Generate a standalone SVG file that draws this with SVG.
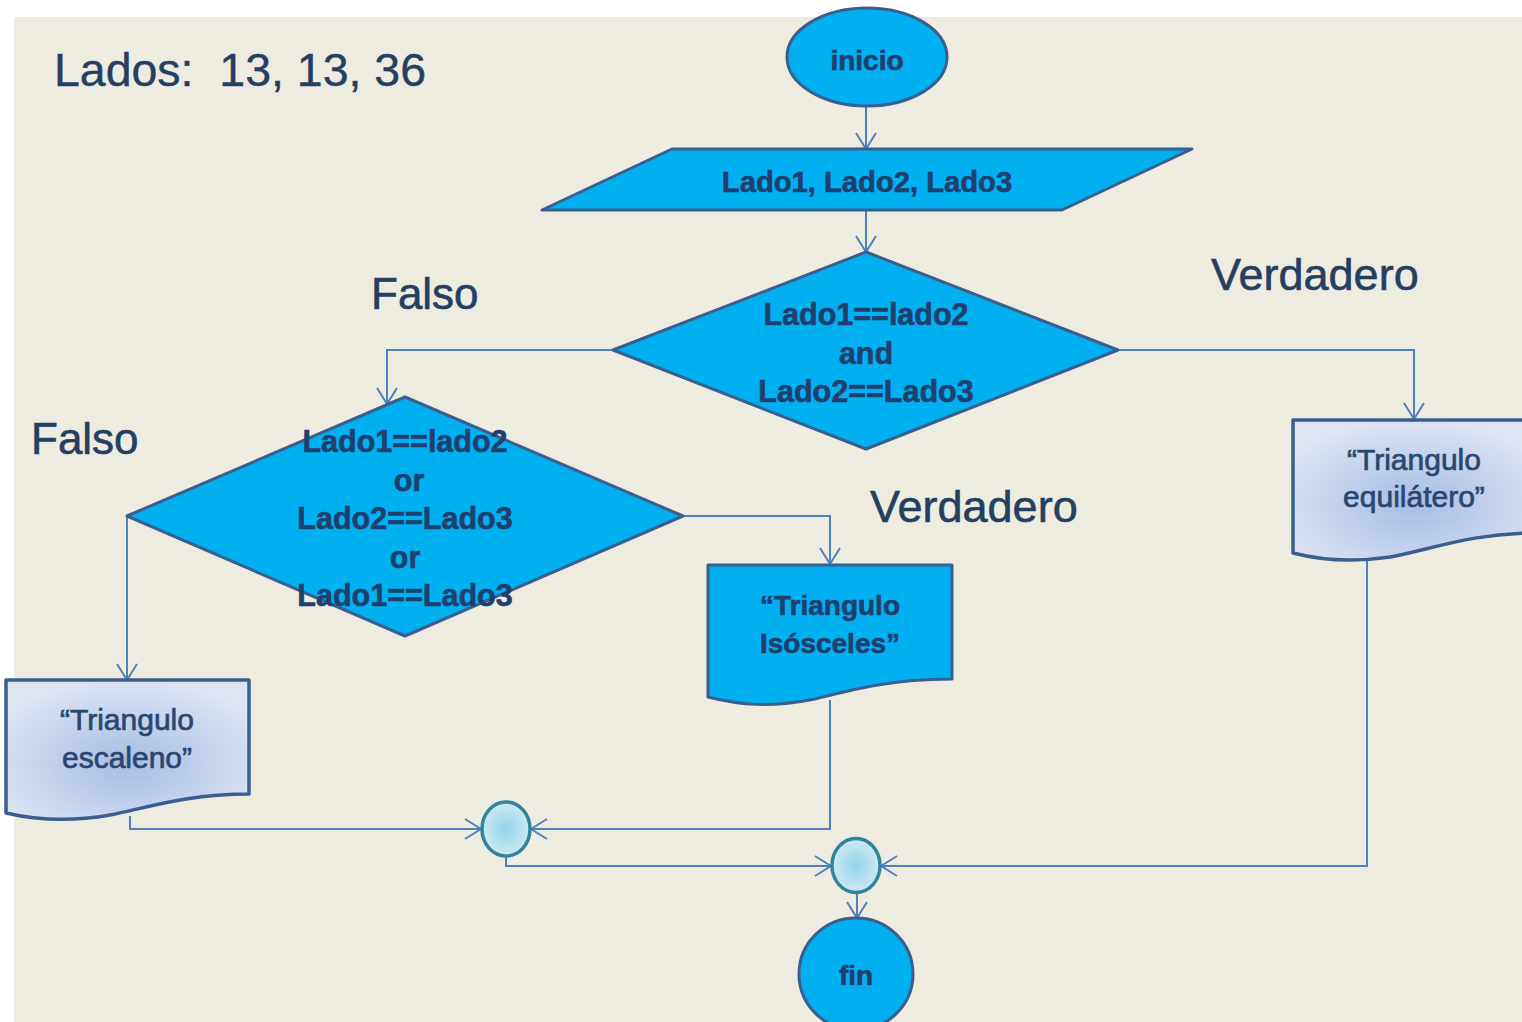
<svg xmlns="http://www.w3.org/2000/svg" width="1522" height="1022" viewBox="0 0 1522 1022">
  <style>
    .node { fill: #00B0F0; stroke: #3A5F8F; stroke-width: 3; stroke-linejoin: round; }
    .doc { fill: url(#docFill); stroke: #3A5F8F; stroke-width: 3.5; stroke-linejoin: round; }
    .junction { fill: url(#junctionFill); stroke: #31849B; stroke-width: 3.5; }
    .conn { fill: none; stroke: #4F81BD; stroke-width: 2; marker-end: url(#arrow); }
    .t { font-family: "Liberation Sans", Arial, sans-serif; text-anchor: middle; }
    .nt { font-weight: bold; fill: #1F3F6F; stroke: #1F3F6F; stroke-width: 0.6; }
    .dt { font-size: 30px; fill: #2A4770; stroke: #2A4770; stroke-width: 0.7; }
    .lbl { font-family: "Liberation Sans", Arial, sans-serif; fill: #243F60; stroke: #243F60; stroke-width: 0.6; }
    .s28 { font-size: 28px; }
    .s29 { font-size: 29.2px; }
    .s30 { font-size: 30.5px; }
    .s44 { font-size: 44px; }
    .s45 { font-size: 45px; }
  </style>
  <defs>
    <marker id="arrow" viewBox="0 0 18 22" refX="17" refY="11" markerWidth="18" markerHeight="22" markerUnits="userSpaceOnUse" orient="auto">
      <path d="M1,1 L17,11 L1,21" fill="none" stroke="#4F81BD" stroke-width="2"/>
    </marker>
    <radialGradient id="docFill" cx="50%" cy="60%" r="60%">
      <stop offset="0" stop-color="#A6BDE6"/>
      <stop offset="0.6" stop-color="#C6D4EE"/>
      <stop offset="1" stop-color="#DDE4F2"/>
    </radialGradient>
    <radialGradient id="junctionFill" cx="50%" cy="50%" r="55%">
      <stop offset="0" stop-color="#93D3EC"/>
      <stop offset="1" stop-color="#D3EBF3"/>
    </radialGradient>
  </defs>

  <!-- page background -->
  <rect x="0" y="0" width="1522" height="1022" fill="#FFFFFF"/>
  <rect x="14" y="17" width="1508" height="1005" fill="#EEEBE0"/>

  <!-- heading and branch labels -->
  <text class="lbl" x="54" y="86" style="font-size:46px;stroke-width:0.4" xml:space="preserve" textLength="372" lengthAdjust="spacingAndGlyphs">Lados:  13, 13, 36</text>
  <text class="lbl s44" x="371" y="309">Falso</text>
  <text class="lbl s45" x="1211" y="290">Verdadero</text>
  <text class="lbl s44" x="31" y="454">Falso</text>
  <text class="lbl s45" x="870" y="522">Verdadero</text>

  <!-- connectors -->
  <g id="connectors">
    <line class="conn" x1="866" y1="107" x2="866" y2="149"/>
    <line class="conn" x1="866" y1="210" x2="866" y2="252"/>
    <polyline class="conn" points="613,350 387,350 387,404"/>
    <polyline class="conn" points="1118,350 1414,350 1414,419"/>
    <polyline class="conn" points="127,516 127,680"/>
    <polyline class="conn" points="683,516 830,516 830,564"/>
    <polyline class="conn" points="130,816 130,829 481,829"/>
    <polyline class="conn" points="830,700 830,829 531,829"/>
    <polyline class="conn" points="506,857 506,866 831,866"/>
    <polyline class="conn" points="1367,558 1367,866 881,866"/>
    <line class="conn" x1="857" y1="893" x2="857" y2="918"/>
  </g>

  <!-- start -->
  <g id="inicio">
    <ellipse class="node" cx="867" cy="57" rx="80" ry="49"/>
    <text class="t nt s28" x="867" y="70">inicio</text>
  </g>

  <!-- input -->
  <g id="entrada">
    <polygon class="node" points="672,149 1192,149 1062,210 542,210"/>
    <text class="t nt s29" x="867" y="192">Lado1, Lado2, Lado3</text>
  </g>

  <!-- decision: all sides equal -->
  <g id="decision-equilatero">
    <polygon class="node" points="866,252 1118,350 866,449 613,350"/>
    <text class="t nt s30" x="866" y="325">Lado1==lado2</text>
    <text class="t nt s30" x="866" y="364">and</text>
    <text class="t nt s30" x="866" y="402">Lado2==Lado3</text>
  </g>

  <!-- decision: two sides equal -->
  <g id="decision-isosceles">
    <polygon class="node" points="405,397 683,516 405,636 127,516"/>
    <text class="t nt s30" x="405" y="452">Lado1==lado2</text>
    <text class="t nt s30" x="409" y="491">or</text>
    <text class="t nt s30" x="405" y="529">Lado2==Lado3</text>
    <text class="t nt s30" x="405" y="568">or</text>
    <text class="t nt s30" x="405" y="606">Lado1==Lado3</text>
  </g>

  <!-- output: equilateral -->
  <g id="salida-equilatero">
    <path class="doc" d="M1293,420 L1536,420 L1536,533 C1470,533 1430,550 1390,557 C1350,563 1320,560 1293,553 Z"/>
    <text class="t dt" x="1414" y="470">“Triangulo</text>
    <text class="t dt" x="1414" y="507">equilátero”</text>
  </g>

  <!-- output: isosceles -->
  <g id="salida-isosceles">
    <path class="node" d="M708,565 L952,565 L952,679 C890,679 850,690 815,699 C770,708 740,705 708,697 Z"/>
    <text class="t nt s28" x="830" y="615">“Triangulo</text>
    <text class="t nt s28" x="830" y="653">Isósceles”</text>
  </g>

  <!-- output: scalene -->
  <g id="salida-escaleno">
    <path class="doc" d="M6,680 L249,680 L249,794 C186,794 146,808 110,815 C70,822 36,820 6,813 Z"/>
    <text class="t dt" x="127" y="730">“Triangulo</text>
    <text class="t dt" x="127" y="768">escaleno”</text>
  </g>

  <!-- merge points -->
  <g id="union-1">
    <ellipse class="junction" cx="506" cy="829" rx="24" ry="27"/>
  </g>
  <g id="union-2">
    <ellipse class="junction" cx="856" cy="865.5" rx="24" ry="27"/>
  </g>

  <!-- end -->
  <g id="fin">
    <ellipse class="node" cx="856" cy="974" rx="57" ry="56"/>
    <text class="t nt s28" x="856" y="985">fin</text>
  </g>
</svg>
